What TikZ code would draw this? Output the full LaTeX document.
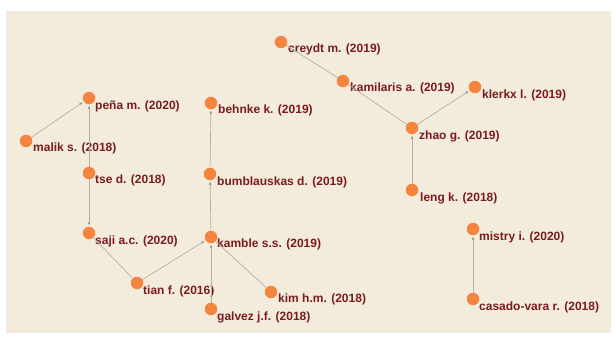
\documentclass[tikz,border=0pt]{standalone}
\usepackage{fontspec}
\setmainfont{Liberation Sans}
\usetikzlibrary{arrows.meta}
\definecolor{bgbeige}{HTML}{F3ECDC}
\definecolor{dotorange}{HTML}{F5843E}
\definecolor{labred}{HTML}{7A1B1E}
\definecolor{edgegray}{HTML}{AEB2A6}
\definecolor{tipgray}{HTML}{8A8E84}
\tikzset{
  dot/.style={circle,fill=dotorange,minimum size=12.5pt,inner sep=0pt},
  lab/.style={anchor=west,text=labred,font=\fontsize{12}{14}\selectfont\bfseries,inner sep=0pt},
  dirlink/.style={draw=edgegray,line width=0.7pt,-{Stealth[length=3.2pt,width=2.6pt,color=tipgray]},shorten >=1.5pt},
  undirlink/.style={draw=edgegray,line width=0.7pt}
}
\begin{document}
\begin{tikzpicture}[x=1pt,y=-1pt]
\useasboundingbox (0,0) rectangle (616,340);
\fill[bgbeige] (6,11) rectangle (611,333);
% nodes
\node[dot] (creydt) at (281,42) {};
\node[dot] (kamilaris) at (343,81) {};
\node[dot] (klerkx) at (475,87) {};
\node[dot] (pena) at (89,98) {};
\node[dot] (behnke) at (211,103) {};
\node[dot] (malik) at (26,141) {};
\node[dot] (zhao) at (412,128) {};
\node[dot] (tse) at (89,173) {};
\node[dot] (bumb) at (210,174) {};
\node[dot] (leng) at (412,190) {};
\node[dot] (mistry) at (473,229) {};
\node[dot] (saji) at (89,233) {};
\node[dot] (kamble) at (211,237) {};
\node[dot] (tian) at (137,283) {};
\node[dot] (kim) at (271,292) {};
\node[dot] (galvez) at (211,309) {};
\node[dot] (casado) at (473,299) {};
% labels
\node[lab] (l-creydt) at (288,49) {creydt m. (2019)};
\node[lab] (l-kamilaris) at (350,88) {kamilaris a. (2019)};
\node[lab] (l-klerkx) at (482,95) {klerkx l. (2019)};
\node[lab] (l-pena) at (95,106) {peña m. (2020)};
\node[lab] (l-behnke) at (218,110) {behnke k. (2019)};
\node[lab] (l-malik) at (33,148) {malik s. (2018)};
\node[lab] (l-zhao) at (419,136) {zhao g. (2019)};
\node[lab] (l-tse) at (95,180) {tse d. (2018)};
\node[lab] (l-bumb) at (217,182) {bumblauskas d. (2019)};
\node[lab] (l-leng) at (420,198) {leng k. (2018)};
\node[lab] (l-mistry) at (479,237) {mistry i. (2020)};
\node[lab] (l-saji) at (95,241) {saji a.c. (2020)};
\node[lab] (l-kamble) at (217,244) {kamble s.s. (2019)};
\node[lab] (l-tian) at (143,291) {tian f. (2016)};
\node[lab] (l-kim) at (278,299) {kim h.m. (2018)};
\node[lab] (l-galvez) at (217,317) {galvez j.f. (2018)};
\node[lab] (l-casado) at (479,307) {casado-vara r. (2018)};
% edges
\draw[dirlink] (malik) -- (pena);
\draw[dirlink] (tse) -- (pena);
\draw[dirlink] (tse) -- (saji);
\draw[undirlink] (saji) -- (tian);
\draw[dirlink] (tian) -- (kamble);
\draw[dirlink] (galvez) -- (kamble);
\draw[undirlink] (kim) -- (kamble);
\draw[dirlink] (kamble) -- (bumb);
\draw[dirlink] (bumb) -- (behnke);
\draw[undirlink] (creydt) -- (kamilaris);
\draw[undirlink] (kamilaris) -- (zhao);
\draw[dirlink] (zhao) -- (klerkx);
\draw[dirlink] (leng) -- (zhao);
\draw[dirlink] (casado) -- (mistry);
\end{tikzpicture}
\end{document}
